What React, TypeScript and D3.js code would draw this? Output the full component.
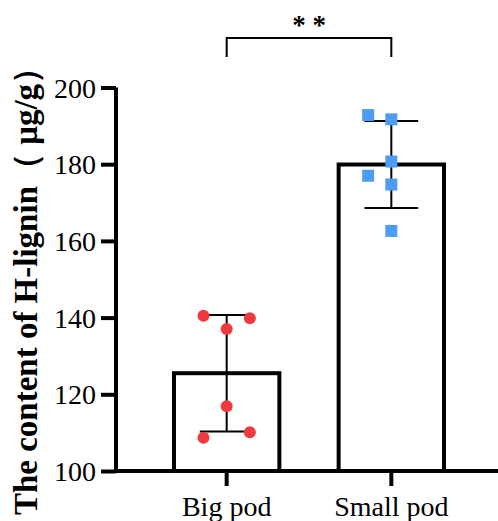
import React, { useEffect, useRef } from 'react'
import * as d3 from 'd3'

const groups = ['Big pod', 'Small pod']
const bigPod = [140.5, 139.8, 137.0, 116.9, 108.7, 110.1]
const smallPod = [192.8, 191.7, 180.7, 177.0, 174.7, 162.6]
// column of each dot within the bar (-1 left, 0 middle, 1 right)
const bigPodSlot = [-1, 1, 0, 0, -1, 1]
const smallPodSlot = [-1, 0, 0, -1, 0, 0]
const yTicks = [100, 120, 140, 160, 180, 200]
const yDomain = [100, 200]
const significance = '* *'

const width = 498
const height = 521
const font = '"Liberation Serif", "Times New Roman", serif'

const App = () => {
  const d3Ref = useRef(null)

  useEffect(() => {
    const svg = d3.select(d3Ref.current)
    svg.selectAll('*').remove()

    const axisX = 116
    const y = d3.scaleLinear().domain(yDomain).range([471, 87.5])
    const x = d3.scaleBand().domain(groups).range([118, 500])
      .paddingInner(0.36).paddingOuter(0.34)
    const slot = d3.scaleLinear().domain([-1, 1]).range([-x.bandwidth() * 0.22, x.bandwidth() * 0.22])

    const series = [
      { name: groups[0], values: bigPod, slots: bigPodSlot, color: '#EF3A3F', shape: 'circle' },
      { name: groups[1], values: smallPod, slots: smallPodSlot, color: '#4C9CF4', shape: 'square' },
    ].map(s => ({ ...s, mean: d3.mean(s.values), sd: d3.deviation(s.values) }))

    const g = svg.append('g')

    // bars
    g.selectAll('rect.bar')
      .data(series)
      .join('rect')
      .attr('class', 'bar')
      .attr('x', d => x(d.name))
      .attr('y', d => y(d.mean))
      .attr('width', x.bandwidth())
      .attr('height', d => y(yDomain[0]) - y(d.mean))
      .attr('fill', 'white')
      .attr('stroke', 'black')
      .attr('stroke-width', 4)

    // error bars (mean ± SD)
    const capHalf = x.bandwidth() * 0.255
    series.forEach(s => {
      const cx = x(s.name) + x.bandwidth() / 2
      const eb = g.append('g').attr('stroke', 'black').attr('stroke-width', 2)
      eb.append('line').attr('x1', cx).attr('x2', cx).attr('y1', y(s.mean + s.sd)).attr('y2', y(s.mean - s.sd))
      eb.append('line').attr('x1', cx - capHalf).attr('x2', cx + capHalf).attr('y1', y(s.mean + s.sd)).attr('y2', y(s.mean + s.sd))
      eb.append('line').attr('x1', cx - capHalf).attr('x2', cx + capHalf).attr('y1', y(s.mean - s.sd)).attr('y2', y(s.mean - s.sd))
    })

    // individual points
    series.forEach(s => {
      const cx = x(s.name) + x.bandwidth() / 2
      const pts = s.values.map((v, i) => ({ v, px: cx + slot(s.slots[i]) }))
      if (s.shape === 'circle') {
        g.append('g').selectAll('circle')
          .data(pts)
          .join('circle')
          .attr('cx', d => d.px)
          .attr('cy', d => y(d.v))
          .attr('r', 6)
          .attr('fill', s.color)
      } else {
        g.append('g').selectAll('rect')
          .data(pts)
          .join('rect')
          .attr('x', d => d.px - 6)
          .attr('y', d => y(d.v) - 6)
          .attr('width', 12)
          .attr('height', 12)
          .attr('fill', s.color)
      }
    })

    // y axis
    const yAxis = g.append('g').attr('transform', `translate(${axisX},0)`)
      .call(d3.axisLeft(y).tickValues(yTicks).tickSize(15).tickPadding(5))
    yAxis.select('.domain').attr('d', `M0,${y(yDomain[0]) + 2}V${y(yDomain[1])}`)
    yAxis.selectAll('path, line').attr('stroke', 'black').attr('stroke-width', 4)
    yAxis.selectAll('text').attr('font-family', font).attr('font-size', 28).attr('fill', 'black').attr('dy', '0.34em')

    // x axis
    const xAxis = g.append('g').attr('transform', `translate(0,${y(yDomain[0])})`)
      .call(d3.axisBottom(x).tickSize(15).tickPadding(10))
    xAxis.select('.domain').attr('d', `M${axisX - 2},0H${width}`)
    xAxis.selectAll('path, line').attr('stroke', 'black').attr('stroke-width', 4)
    xAxis.selectAll('text').attr('font-family', font).attr('font-size', 28).attr('fill', 'black')
      .attr('dy', '0.71em')

    // y title
    g.append('text')
      .attr('transform', `translate(37, 283) rotate(-90)`)
      .attr('text-anchor', 'middle')
      .attr('font-family', font)
      .attr('font-weight', 'bold')
      .attr('font-size', 33)
      .text('The content of H-lignin（ μg/g）')

    // significance bracket
    const c1 = x(groups[0]) + x.bandwidth() / 2
    const c2 = x(groups[1]) + x.bandwidth() / 2
    g.append('path')
      .attr('d', `M${c1},57V38H${c2}V57`)
      .attr('fill', 'none')
      .attr('stroke', 'black')
      .attr('stroke-width', 2)
    g.append('text')
      .attr('x', (c1 + c2) / 2)
      .attr('y', 34)
      .attr('text-anchor', 'middle')
      .attr('font-family', font)
      .attr('font-weight', 'bold')
      .attr('font-size', 27)
      .text(significance)
  }, [])

  return (
    <svg ref={d3Ref} width={width} height={height}
      style={{ position: 'absolute', left: 0, top: 0, background: 'white' }} />
  )
}

export default App
